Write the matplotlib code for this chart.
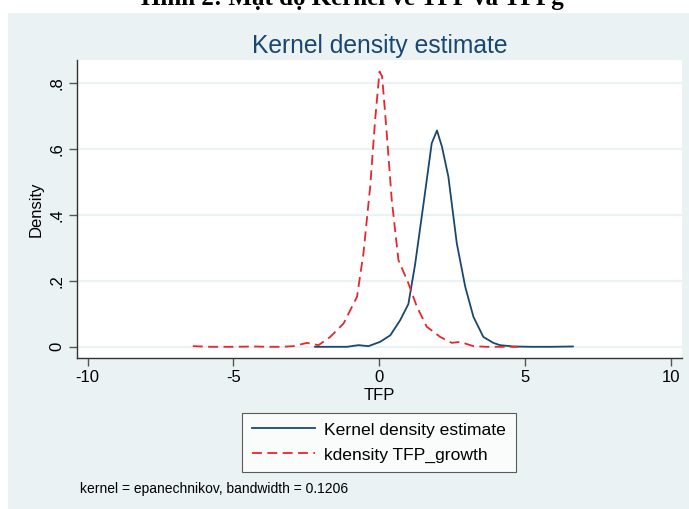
import matplotlib
matplotlib.use('Agg')
import matplotlib.pyplot as plt
from matplotlib.patches import Rectangle

# density curves (Stata kdensity output)
tfp_x = [-2.2, -1.6, -1.1, -0.71, -0.37, 0.03, 0.38, 0.72, 1.0, 1.23, 1.52, 1.8, 1.98,
         2.15, 2.37, 2.66, 2.95, 3.23, 3.57, 3.91, 4.14, 4.6, 5.2, 5.9, 6.64]
tfp_y = [0.0, 0.0, 0.0, 0.005, 0.002, 0.015, 0.035, 0.081, 0.13, 0.25, 0.435, 0.618, 0.657,
         0.608, 0.517, 0.314, 0.182, 0.091, 0.030, 0.012, 0.005, 0.001, 0.0, 0.0, 0.001]

growth_x = [-6.39, -5.8, -5.0, -4.3, -3.8, -3.33, -2.93, -2.48, -2.08, -1.68, -1.22, -0.76,
            -0.54, -0.31, -0.14, 0.01, 0.10, 0.24, 0.43, 0.66, 1.0, 1.29, 1.63, 2.09,
            2.49, 2.77, 3.23, 3.68, 4.14, 4.76]
growth_y = [0.002, 0.0, 0.0, 0.001, 0.0, 0.0, 0.002, 0.012, 0.005, 0.030, 0.071, 0.152,
            0.284, 0.486, 0.689, 0.836, 0.821, 0.669, 0.446, 0.263, 0.193, 0.122, 0.061, 0.030,
            0.012, 0.015, 0.002, 0.0, 0.0, 0.0]

x_ticks = [-10, -5, 0, 5, 10]
y_ticks = [0, 0.2, 0.4, 0.6, 0.8]
y_labels = ['0', '.2', '.4', '.6', '.8']

navy = '#1a476f'
red = '#e8262b'
bg = '#eaf2f3'

plt.rcParams['font.family'] = ['Liberation Sans', 'DejaVu Sans']
plt.rcParams['axes.unicode_minus'] = False

fig = plt.figure(figsize=(6.89, 5.09), dpi=100)
fig.patch.set_facecolor('white')
fig.patches.append(Rectangle((8 / 689, 0), 1 - 8 / 689, 1 - 13 / 509,
                             transform=fig.transFigure, facecolor=bg,
                             edgecolor='none', zorder=-10))

# caption above the graph, cut off at the top like in the scan
fig.text(352 / 689, 1 - 4.5 / 509, 'Hình 2: Mật độ Kernel về TFP và TFPg',
         family=['Liberation Serif', 'DejaVu Serif'], fontweight='bold',
         fontsize=18, ha='center', va='baseline')

ax = fig.add_axes([77 / 689, 1 - 358 / 509, (682 - 77) / 689, (358 - 60) / 509])
ax.set_facecolor('white')

ax.plot(tfp_x, tfp_y, color=navy, lw=1.3, label='Kernel density estimate')
ax.plot(growth_x, growth_y, color=red, lw=1.3, ls=(0, (5.5, 3)),
        label='kdensity TFP_growth')

ax.set_xlim(-10.36, 10.38)
ax.set_ylim(-0.034, 0.871)
ax.set_xticks(x_ticks)
ax.set_yticks(y_ticks)
ax.set_yticklabels(y_labels, rotation=90, va='center')
ax.grid(axis='y', color=bg, lw=1.6)
ax.set_axisbelow(True)

for s in ['top', 'right']:
    ax.spines[s].set_visible(False)
for s in ['left', 'bottom']:
    ax.spines[s].set_color('#333333')
    ax.spines[s].set_linewidth(1.0)
ax.tick_params(length=6, width=1, color='#555555', labelsize=12, pad=3)

ax.set_xlabel('TFP', fontsize=12, labelpad=2)
ax.set_ylabel('Density', fontsize=12, labelpad=4)
ax.set_title('Kernel density estimate', fontsize=17.7, color=navy, pad=5)

leg = fig.legend(loc='center', bbox_to_anchor=(379 / 689, 1 - 442.5 / 509),
                 fontsize=12.6, frameon=True, fancybox=False, handlelength=3.6,
                 borderpad=0.55, labelspacing=0.55, handletextpad=0.55)
leg.get_frame().set_edgecolor('#333333')
leg.get_frame().set_linewidth(0.8)

fig.text(80 / 689, 1 - 489 / 509, 'kernel = epanechnikov, bandwidth = 0.1206',
         fontsize=10, ha='left', va='center')

fig.savefig('out.png', dpi=100)
